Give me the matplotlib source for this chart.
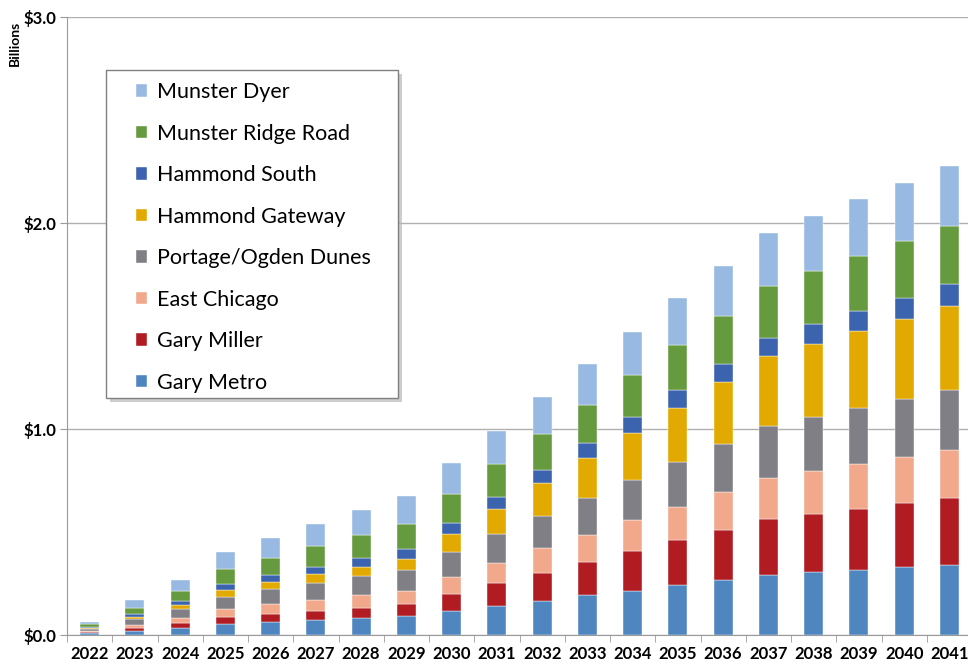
import matplotlib.pyplot as plt
import matplotlib.patches as mpatches
import numpy as np

years = [str(y) for y in range(2022, 2042)]

# values in $ billions (bottom to top of each stack)
gary_metro = [0.008, 0.021, 0.034, 0.053, 0.062, 0.073, 0.083, 0.092, 0.117, 0.142,
              0.167, 0.193, 0.215, 0.243, 0.265, 0.291, 0.304, 0.314, 0.328, 0.340]
gary_miller = [0.005, 0.013, 0.024, 0.033, 0.040, 0.045, 0.050, 0.058, 0.082, 0.109,
               0.136, 0.161, 0.193, 0.217, 0.246, 0.270, 0.283, 0.298, 0.311, 0.325]
east_chicago = [0.006, 0.015, 0.026, 0.042, 0.047, 0.052, 0.061, 0.064, 0.083, 0.099,
                0.118, 0.133, 0.149, 0.163, 0.182, 0.201, 0.209, 0.218, 0.225, 0.233]
portage = [0.011, 0.027, 0.041, 0.058, 0.073, 0.084, 0.091, 0.103, 0.121, 0.142,
           0.158, 0.177, 0.197, 0.217, 0.236, 0.253, 0.264, 0.272, 0.282, 0.291]
hammond_gateway = [0.005, 0.013, 0.021, 0.032, 0.034, 0.042, 0.047, 0.050, 0.087, 0.121,
                   0.157, 0.194, 0.228, 0.263, 0.301, 0.338, 0.353, 0.374, 0.388, 0.408]
hammond_south = [0.006, 0.014, 0.021, 0.031, 0.034, 0.036, 0.042, 0.050, 0.054, 0.058,
                 0.065, 0.072, 0.076, 0.086, 0.086, 0.090, 0.097, 0.098, 0.104, 0.105]
ridge_road = [0.011, 0.028, 0.047, 0.071, 0.085, 0.100, 0.111, 0.120, 0.139, 0.157,
              0.173, 0.187, 0.203, 0.219, 0.234, 0.253, 0.257, 0.266, 0.276, 0.283]
munster_dyer = [0.013, 0.037, 0.055, 0.081, 0.094, 0.105, 0.122, 0.136, 0.150, 0.164,
                0.180, 0.197, 0.211, 0.226, 0.243, 0.257, 0.267, 0.275, 0.279, 0.292]

series = [
    ('Gary Metro', gary_metro, '#4F86BF'),
    ('Gary Miller', gary_miller, '#B01C22'),
    ('East Chicago', east_chicago, '#F1A88B'),
    ('Portage/Ogden Dunes', portage, '#7F7F85'),
    ('Hammond Gateway', hammond_gateway, '#E2A900'),
    ('Hammond South', hammond_south, '#3B63AE'),
    ('Munster Ridge Road', ridge_road, '#659A3F'),
    ('Munster Dyer', munster_dyer, '#98B9E1'),
]

W, H = 968, 665
fig = plt.figure(figsize=(W / 100, H / 100), dpi=100)
ax = fig.add_axes([67 / W, 30 / H, 905 / W, 618 / H])

x = np.arange(len(years))
bottom = np.zeros(len(years))
bars = []
for name, vals, color in series:
    b = ax.bar(x, vals, width=0.42, bottom=bottom, color=color, label=name,
               edgecolor='white', linewidth=0.3, zorder=3)
    bars.append(b)
    bottom += np.array(vals)

ax.set_xlim(-0.5, len(years) - 0.5)
ax.set_ylim(0, 3.0)
ax.set_yticks([0, 1, 2, 3])
ax.set_yticklabels(['$0.0', '$1.0', '$2.0', '$3.0'])
ax.yaxis.grid(True, color='#b0b0b0', linewidth=1, zorder=0)

# ticks between categories
ax.set_xticks(np.arange(len(years) + 1) - 0.5, minor=True)
ax.set_xticks(x)
ax.set_xticklabels(years)
ax.tick_params(axis='x', which='major', length=0, pad=8)
ax.tick_params(axis='x', which='minor', length=5, color='#9a9a9a', direction='out')
ax.tick_params(axis='y', length=5, color='#9a9a9a', pad=3)

for lab in ax.get_xticklabels() + ax.get_yticklabels():
    lab.set_fontfamily('Lato')
    lab.set_fontweight('bold')
    lab.set_fontsize(12)

for side in ['top', 'right']:
    ax.spines[side].set_visible(False)
for side in ['left', 'bottom']:
    ax.spines[side].set_color('#9a9a9a')

fig.text(15 / W, 1 - 43 / H, 'Billions', rotation=90, ha='center', va='center',
         fontfamily='Lato', fontweight='bold', fontsize=10)

# legend frame with shadow, drawn by hand
bx0, by0, bx1, by1 = 106, 70, 398, 398
shadow = mpatches.Rectangle(((bx0 + 4) / W, 1 - (by1 + 4) / H), (bx1 - bx0) / W, (by1 - by0) / H,
                            transform=fig.transFigure, facecolor='#b8b8b8', edgecolor='none',
                            alpha=0.7, zorder=8)
frame = mpatches.Rectangle((bx0 / W, 1 - by1 / H), (bx1 - bx0) / W, (by1 - by0) / H,
                           transform=fig.transFigure, facecolor='white', edgecolor='#808080',
                           linewidth=1, zorder=9)
fig.patches.extend([shadow, frame])

leg = fig.legend(bars[::-1], [s[0] for s in series[::-1]],
                 loc='upper left', bbox_to_anchor=(136 / W, 1 - 82 / H),
                 prop={'family': 'Lato', 'size': 15.5},
                 frameon=False,
                 handlelength=0.51, handleheight=0.51, handletextpad=0.46,
                 labelspacing=1.0, borderpad=0, borderaxespad=0)
leg.set_zorder(10)

plt.savefig('out.png', dpi=100)
